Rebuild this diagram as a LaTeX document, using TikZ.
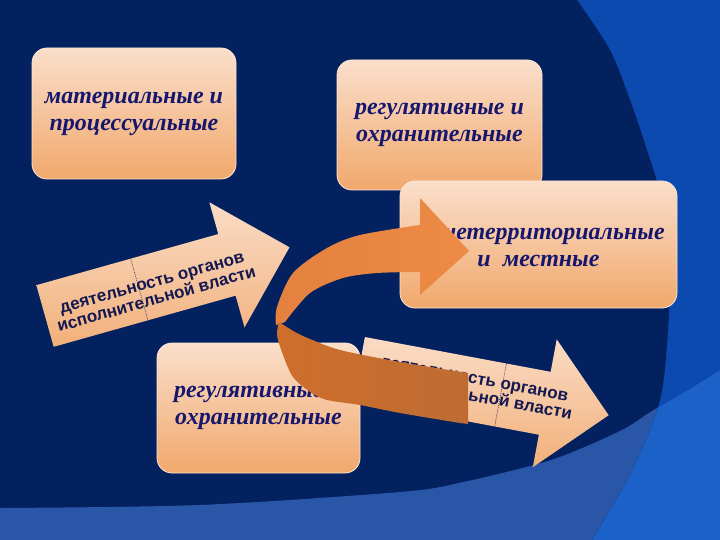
\documentclass[tikz,border=0pt]{standalone}
\usepackage{fontspec}
\setmainfont{Liberation Serif}
\setsansfont{Liberation Sans}

\definecolor{bgdark}{HTML}{03215F}
\definecolor{bgright}{HTML}{0C4AB0}
\definecolor{bandin}{HTML}{2A56A8}
\definecolor{bandout}{HTML}{1B61C8}
\definecolor{boxtop}{HTML}{FADFCB}
\definecolor{boxbot}{HTML}{F1A86C}
\definecolor{boxline}{HTML}{FBE6D6}
\definecolor{boxtext}{HTML}{16166E}
\definecolor{arrtop}{HTML}{FADCC6}
\definecolor{arrbot}{HTML}{F2B07A}
\definecolor{arrtext}{HTML}{141850}
\definecolor{ribA}{HTML}{E5813E}
\definecolor{ribB}{HTML}{D86A22}
\definecolor{ribC}{HTML}{EC8A46}
\definecolor{ribD}{HTML}{CE6E2C}
\definecolor{ribE}{HTML}{B3561A}
\definecolor{ribF}{HTML}{BE6C34}

\newcommand\boxfont{\fontsize{24}{27}\selectfont\bfseries\itshape}
\newcommand\arrfont{\fontsize{17}{16}\selectfont\sffamily\bfseries}

\begin{document}
\begin{tikzpicture}[x=1pt,y=-1pt,
    normbox/.style={rounded corners=15pt, top color=boxtop, bottom color=boxbot,
        draw=boxline, line width=0.8pt, minimum width=#1, minimum height=130pt,
        align=center, font=\boxfont, text=boxtext, inner sep=0pt},
    blockarrow/.style={top color=arrtop, bottom color=arrbot},
    divider/.style={draw=arrtext, dash pattern=on 1pt off 1pt, line width=0.5pt},
    arrowtext/.style={align=center, font=\arrfont, text=arrtext, inner sep=0pt, transform shape}]

\useasboundingbox (0,0) rectangle (720,540);

% background
\fill[bgright] (0,0) rectangle (720,540);
\fill[bandout] plot[smooth] coordinates {(0,508) (200,505) (400,492) (459,483) (551,460) (620,431) (652,411) (690,389) (720,370)}
    -- (720,540) -- (0,540) -- cycle;
\fill[bgdark] (0,0) -- plot[smooth] coordinates {(577,0) (610,50) (630,100) (647,150) (662,200) (670,260) (668,330) (660,400) (632,470) (592,540)}
    -- (0,540) -- cycle;
\begin{scope}
  \clip (0,0) -- plot[smooth] coordinates {(577,0) (610,50) (630,100) (647,150) (662,200) (670,260) (668,330) (660,400) (632,470) (592,540)}
      -- (0,540) -- cycle;
  \fill[bandin] plot[smooth] coordinates {(0,508) (200,505) (400,492) (459,483) (551,460) (620,431) (652,411) (690,389) (720,370)}
      -- (720,540) -- (0,540) -- cycle;
\end{scope}

% boxes
\node[normbox=204pt, minimum height=131pt] (mat) at (134,113.5) {материальные и\\процессуальные};
\node[normbox=205pt] (regtop) at (439.5,125) {регулятивные и\\охранительные};
\node[normbox=277pt, minimum height=127pt] (terr) at (538.5,244.5) {общетерриториальные\\и~~местные};

% left arrow
\begin{scope}[shift={(45,316)}, rotate=15.7]
  \shade[blockarrow] (0,-32) -- (189,-32) -- (189,-65) -- (254,0) -- (189,65) -- (189,32) -- (0,32) -- cycle;
  \draw[divider] (98,-32) -- (98,32);
  \node[arrowtext] (actleft) at (112,6) {деятельность органов\\исполнительной власти};
\end{scope}

\node[normbox=203pt] (regbot) at (258.5,408) {регулятивные и\\охранительные};

% right arrow
\begin{scope}[shift={(359,368.5)}, rotate=-10.6]
  \shade[blockarrow] (0,-32) -- (189,-32) -- (189,-65) -- (254,0) -- (189,65) -- (189,32) -- (0,32) -- cycle;
  \draw[divider] (144,-32) -- (144,32);
  \node[arrowtext] (actright) at (115,-2) {деятельность органов\\исполнительной власти};
\end{scope}

% curved arrow
\shade[left color=ribA, middle color=ribB, right color=ribC]
  plot[smooth] coordinates {(276,325) (277,307) (293,273) (327,248) (360,235) (420,225)}
  -- (420,198) -- (469,251) -- (420,295) -- (420,272)
  -- plot[smooth] coordinates {(417,272) (377,273) (343,278) (310,293) (285,322)} -- cycle;
\shade[left color=ribD, middle color=ribE, right color=ribF]
  plot[smooth] coordinates {(279,322) (295,332) (310,339) (340,350) (400,362) (468,373)}
  -- (468,424)
  -- plot[smooth] coordinates {(460,423) (400,413) (360,405) (327,400) (310,392) (293,377) (283,355) (277,335) (279,322)} -- cycle;

\end{tikzpicture}
\end{document}
